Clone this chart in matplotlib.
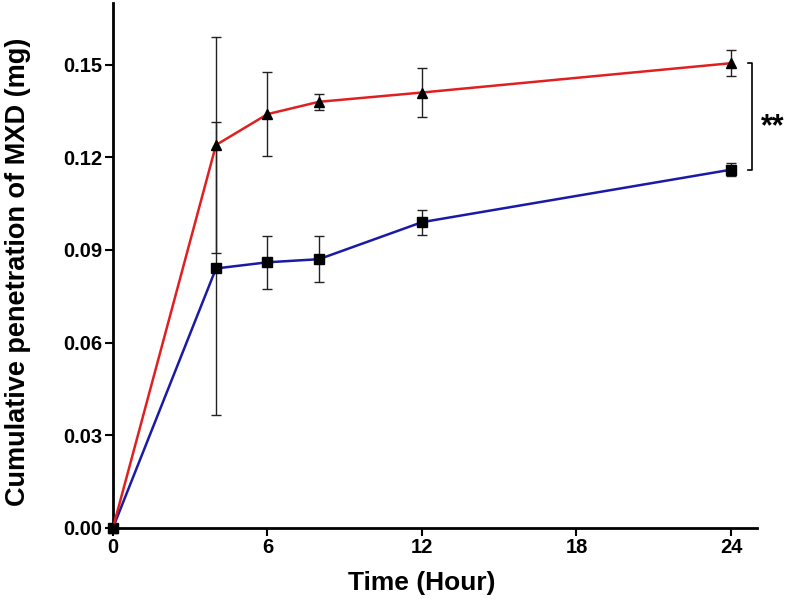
import matplotlib.pyplot as plt

plt.rcParams['font.family'] = ['Liberation Sans', 'DejaVu Sans']

# sampling times (hours)
time_h = [0, 4, 6, 8, 12, 24]

# red series (triangles)
red_mean = [0.0, 0.124, 0.134, 0.138, 0.141, 0.1505]
red_sd = [0.0, 0.035, 0.0135, 0.0025, 0.008, 0.0043]

# blue series (squares)
blue_mean = [0.0, 0.084, 0.086, 0.087, 0.099, 0.116]
blue_sd = [0.0, 0.0475, 0.0085, 0.0075, 0.004, 0.0022]

x_ticks = [0, 6, 12, 18, 24]
y_ticks = [0.00, 0.03, 0.06, 0.09, 0.12, 0.15]

fig = plt.figure(figsize=(7.87, 6.04), dpi=100)
ax = fig.add_axes([0.1436, 0.1263, 0.8179, 0.8687])

ax.errorbar(time_h, blue_mean, yerr=blue_sd, color='#1a1aa6', lw=1.8,
            marker='s', ms=7, mfc='black', mec='black',
            ecolor='#222222', elinewidth=1.0, capsize=3.7, capthick=1.0,
            clip_on=False, zorder=3)
ax.errorbar(time_h, red_mean, yerr=red_sd, color='#e02020', lw=1.8,
            marker='^', ms=7, mfc='black', mec='black',
            ecolor='#222222', elinewidth=1.0, capsize=3.7, capthick=1.0,
            clip_on=False, zorder=3)

# significance bracket between the two end points
bx = 24.83
tick = 0.18
ax.plot([bx - tick, bx, bx, bx - tick], [red_mean[-1], red_mean[-1], blue_mean[-1], blue_mean[-1]],
        color='black', lw=1.2, clip_on=False)
ax.text(bx + 0.35, 0.1296, '**', fontsize=22, fontweight='bold', ha='left', va='center')

ax.set_xlim(0, 25)
ax.set_ylim(0, 0.17)
ax.set_xticks(x_ticks)
ax.set_yticks(y_ticks)
ax.set_yticklabels([f'{v:.2f}' for v in y_ticks])

for side in ['top', 'right']:
    ax.spines[side].set_visible(False)
for side in ['left', 'bottom']:
    ax.spines[side].set_linewidth(2)

ax.tick_params(direction='out', length=6, width=1.5, labelsize=14.5, pad=1.5)
for lab in ax.get_xticklabels() + ax.get_yticklabels():
    lab.set_fontweight('bold')

ax.set_xlabel('Time (Hour)', fontsize=19, fontweight='bold')
ax.set_ylabel('Cumulative penetration of MXD (mg)', fontsize=19.5, fontweight='bold')
ax.xaxis.set_label_coords(0.48, -0.082)
ax.yaxis.set_label_coords(-0.128, 0.487)

fig.savefig('out.png', dpi=100)
